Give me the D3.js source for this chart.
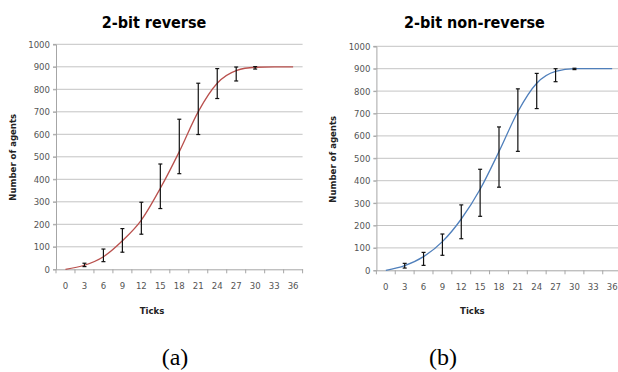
<!DOCTYPE html>
<html>
<head>
<meta charset="utf-8">
<script src="https://cdn.jsdelivr.net/npm/d3@7"></script>
<style>
  body { margin: 0; background: #fff; }
  svg { display: block; }
</style>
</head>
<body>
<svg id="chart" width="618" height="372"></svg>
<script>
// tick categories on the x axis
const ticks = [0, 3, 6, 9, 12, 15, 18, 21, 24, 27, 30, 33, 36];
const yTicks = [0, 100, 200, 300, 400, 500, 600, 700, 800, 900, 1000];

// 2-bit reverse
const reverseMean  = [0, 18, 56, 127, 219, 360, 523, 701, 827, 883, 898, 900, 900];
const reverseLow   = [null, 12, 34, 76, 156, 270, 425, 599, 759, 837, 890, null, null];
const reverseHigh  = [null, 27, 90, 181, 298, 468, 667, 827, 892, 899, 901, null, null];

// 2-bit non-reverse
const nonRevMean   = [0, 21, 61, 128, 229, 362, 530, 708, 835, 888, 900, 900, 900];
const nonRevLow    = [null, 10, 22, 67, 141, 241, 371, 531, 722, 842, 896, null, null];
const nonRevHigh   = [null, 31, 80, 162, 292, 451, 640, 810, 879, 900, 902, null, null];

const svg = d3.select('#chart');
const narrow = '"Liberation Sans Narrow", "DejaVu Sans Condensed", sans-serif';

const panels = [
  { title: '2-bit reverse', tag: '(a)', color: '#b9504d',
    mean: reverseMean, low: reverseLow, high: reverseHigh,
    left: 56, top: 44.3, width: 246.6, height: 225, tagX: 175 },
  { title: '2-bit non-reverse', tag: '(b)', color: '#4f7fbb',
    mean: nonRevMean, low: nonRevLow, high: nonRevHigh,
    left: 376.4, top: 46.3, width: 245.2, height: 224, tagX: 443 }
];

panels.forEach(p => {
  const g = svg.append('g')
    .attr('transform', 'translate(' + p.left + ',' + p.top + ')');

  const x = d3.scaleBand()
    .domain(ticks)
    .range([0, p.width]);

  const y = d3.scaleLinear()
    .domain([0, 1000])
    .range([p.height, 0]);

  const cx = d => x(d) + x.bandwidth() / 2;

  // gridlines
  g.selectAll('line.grid')
    .data(yTicks.slice(1))
    .enter().append('line')
      .attr('class', 'grid')
      .attr('x1', -3).attr('x2', p.width)
      .attr('y1', d => y(d)).attr('y2', d => y(d))
      .attr('stroke', '#c4c4c4')
      .attr('stroke-width', 1);

  // y axis
  const yAxis = g.append('g')
    .call(d3.axisLeft(y).tickValues(yTicks).tickFormat(d3.format('d')).tickSize(3).tickPadding(3));
  yAxis.select('.domain').attr('stroke', '#a6a6a6');
  yAxis.selectAll('.tick line').attr('stroke', '#a6a6a6');
  yAxis.selectAll('text')
    .attr('fill', '#555')
    .style('font-family', narrow)
    .style('font-size', '9.5px');

  // x axis: labels at band centres, tick marks at band edges
  const xAxis = g.append('g')
    .attr('transform', 'translate(0,' + p.height + ')')
    .call(d3.axisBottom(x).tickSize(0).tickPadding(13));
  xAxis.select('.domain').attr('stroke', '#a6a6a6');
  xAxis.selectAll('text')
    .attr('fill', '#555')
    .style('font-family', narrow)
    .style('font-size', '9.5px');
  xAxis.selectAll('line.edge')
    .data(ticks.concat(['end']))
    .enter().append('line')
      .attr('class', 'edge')
      .attr('x1', (d, i) => i * x.step()).attr('x2', (d, i) => i * x.step())
      .attr('y1', 0).attr('y2', 4)
      .attr('stroke', '#a6a6a6');

  // mean curve
  const line = d3.line()
    .x((d, i) => cx(ticks[i]))
    .y(d => y(d))
    .curve(d3.curveMonotoneX);

  g.append('path')
    .datum(p.mean)
    .attr('fill', 'none')
    .attr('stroke', p.color)
    .attr('stroke-width', 1.3)
    .attr('d', line);

  // error bars
  const bars = ticks.map((t, i) => ({ t, lo: p.low[i], hi: p.high[i] }))
    .filter(d => d.lo != null);

  const eb = g.selectAll('g.err')
    .data(bars)
    .enter().append('g')
      .attr('class', 'err')
      .attr('stroke', '#111')
      .attr('stroke-width', 1.2);
  eb.append('line')
    .attr('x1', d => cx(d.t)).attr('x2', d => cx(d.t))
    .attr('y1', d => y(d.hi)).attr('y2', d => y(d.lo));
  eb.append('line')
    .attr('x1', d => cx(d.t) - 2).attr('x2', d => cx(d.t) + 2)
    .attr('y1', d => y(d.hi)).attr('y2', d => y(d.hi));
  eb.append('line')
    .attr('x1', d => cx(d.t) - 2).attr('x2', d => cx(d.t) + 2)
    .attr('y1', d => y(d.lo)).attr('y2', d => y(d.lo));

  // title
  svg.append('text')
    .attr('x', p.left + 98)
    .attr('y', 28)
    .attr('text-anchor', 'middle')
    .style('font-family', narrow)
    .style('font-weight', 'bold')
    .style('font-size', '16px')
    .text(p.title);

  // y label
  svg.append('text')
    .attr('transform', 'translate(' + (p.left - 40) + ',' + (p.top + 113) + ') rotate(-90)')
    .attr('text-anchor', 'middle')
    .style('font-family', narrow)
    .style('font-weight', 'bold')
    .style('font-size', '9.5px')
    .attr('fill', '#222')
    .text('Number of agents');

  // x label
  svg.append('text')
    .attr('x', p.left + 96)
    .attr('y', 314)
    .attr('text-anchor', 'middle')
    .style('font-family', narrow)
    .style('font-weight', 'bold')
    .style('font-size', '9.5px')
    .attr('fill', '#222')
    .text('Ticks');

  // panel tag
  svg.append('text')
    .attr('x', p.tagX)
    .attr('y', 365)
    .attr('text-anchor', 'middle')
    .style('font-family', '"Liberation Serif", serif')
    .style('font-size', '24px')
    .text(p.tag);
});
</script>
</body>
</html>
